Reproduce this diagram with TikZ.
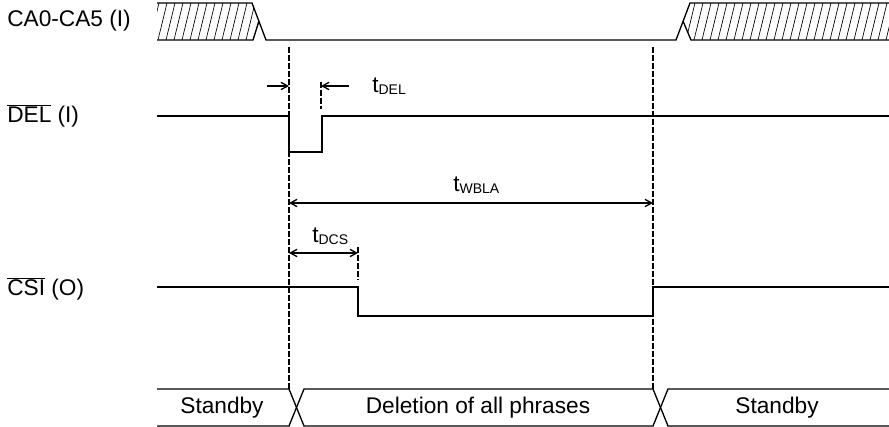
\documentclass[tikz,border=0pt]{standalone}
\usepackage{fontspec}
\setmainfont{Liberation Sans}
\usepackage{tikz}
\usetikzlibrary{arrows.meta,calc,positioning}
\tikzset{>={Straight Barb[length=5pt,width=5.5pt]}}
\tikzset{
  sig/.style={line width=1pt},
  guide/.style={line width=1.4pt,dash pattern=on 4.2pt off 1.8pt},
  hatch/.style={line width=0.5pt},
  lbl/.style={inner sep=0pt,font=\fontsize{17}{20}\selectfont}
}
\newcommand{\tsub}[1]{t\raisebox{-1pt}{\fontsize{10.5}{12}\selectfont #1}}

\begin{document}
\begin{tikzpicture}[x=0.75pt,y=-0.75pt]
                \useasboundingbox (0,0) rectangle (889,427);
                % signal names
                \node[lbl,anchor=west] (ca) at (7,21) {CA0-CA5 (I)};
                \node[lbl,anchor=west] (del) at (7,116) {$\overline{\mbox{DEL}}$ (I)};
                \node[lbl,anchor=west] (csi) at (7,289) {$\overline{\mbox{CSI}}$ (O)};
                % address bus
                \begin{scope}
                    \clip (157,3) -- (252,3) -- (259,21) -- (253,40) -- (157,40) -- cycle;
                    \foreach \i in {150,158,...,270} \draw[hatch] (\i,40) -- (\i+9,3);
                \end{scope}
                \begin{scope}
                    \clip (683,21) -- (690,3) -- (889,3) -- (889,40) -- (691,40) -- cycle;
                    \foreach \i in {670,678,...,890} \draw[hatch] (\i,40) -- (\i+9,3);
                \end{scope}
                \draw[sig] (157,3) -- (252,3) -- (266,40) -- (676,40) -- (690,3) -- (889,3);
                \draw[sig] (157,40) -- (253,40) -- (259,21);
                \draw[sig] (683,21) -- (691,40) -- (889,40);
                % DEL and CSI
                \draw[sig] (157,116) -- (289,116) -- (289,152) -- (322,152) -- (322,116) -- (889,116);
                \draw[sig] (157,287) -- (358,287) -- (358,316) -- (653,316) -- (653,287) -- (889,287);
                % state bar
                \draw[sig] (157,389) -- (289,389) -- (304,426) -- (653,426) -- (668,389) -- (889,389);
                \draw[sig] (157,426) -- (289,426) -- (304,389) -- (653,389) -- (668,426) -- (889,426);
                \node[lbl] (st1) at (222,408) {Standby};
                \node[lbl] (phr) at (478,408) {Deletion of all phrases};
                \node[lbl] (st2) at (777,408) {Standby};
                % guides
                \draw[guide] (289,47) -- (289,389);
                \draw[guide] (653,47) -- (653,389);
                \draw[guide] (321,82) -- (321,109);
                \draw[guide] (358,247) -- (358,280);
                % timings
                \coordinate (d1) at (289,86);
                \coordinate (d2) at (321,86);
                \draw[sig,->] ($(d1)+(-22,0)$) -- (d1);
                \draw[sig,->] ($(d2)+(28,0)$) -- (d2);
                \node[lbl,anchor=base west] (tdel) at (372,93) {\tsub{DEL}};
                \coordinate (w1) at (289,203);
                \coordinate (w2) at (653,203);
                \draw[sig,<->] (w1) -- (w2);
                \node[lbl,anchor=base west] (twbla) at (453,192) {\tsub{WBLA}};
                \coordinate (c1) at (289,253);
                \coordinate (c2) at (358,253);
                \draw[sig,<->] (c1) -- (c2);
                \node[lbl,anchor=base west] (tdcs) at (312,243) {\tsub{DCS}};
            \end{tikzpicture}
\end{document}
